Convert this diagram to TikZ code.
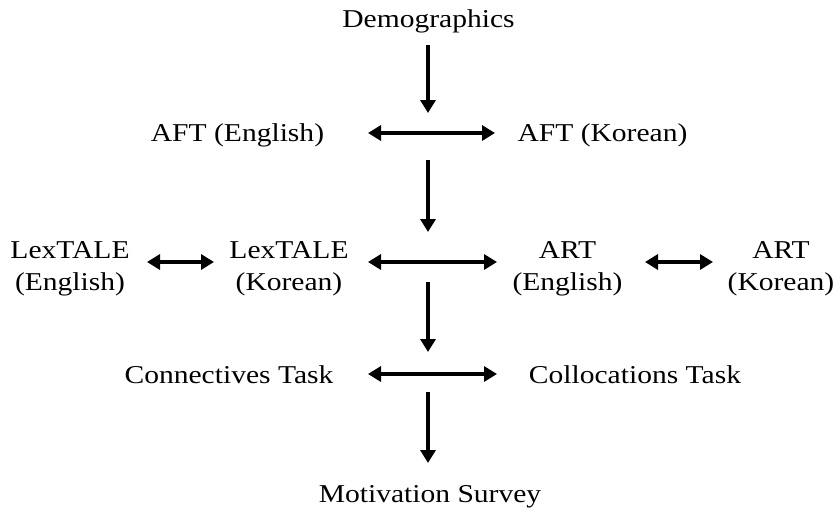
\documentclass[tikz,border=0pt]{standalone}
\usepackage{fontspec}
\setmainfont{Liberation Serif}[FakeStretch=1.15]
\usetikzlibrary{arrows.meta}
\begin{document}
\begin{tikzpicture}[x=1pt,y=-1pt,
  lbl/.style={inner sep=0pt, font=\fontsize{25.7}{32}\selectfont, text height=18pt, text depth=5pt},
  lbl2/.style={inner sep=0pt, font=\fontsize{25.7}{32}\selectfont, align=center},
  arr/.style={line width=4pt, -{Triangle[length=13pt,width=15pt]}},
  dbl/.style={line width=4pt, {Triangle[length=13pt,width=15pt]}-{Triangle[length=13pt,width=15pt]}}]
\useasboundingbox (0,0) rectangle (836,507);
% nodes
\node[lbl] (demo) at (428.5,20.5) {Demographics};
\node[lbl] (aftE) at (237.5,135) {AFT (English)};
\node[lbl] (aftK) at (602.5,135) {AFT (Korean)};
\node[lbl2] (lexE) at (70,269) {LexTALE\\(English)};
\node[lbl2] (lexK) at (289,269) {LexTALE\\(Korean)};
\node[lbl2] (artE) at (567.5,269) {ART\\(English)};
\node[lbl2] (artK) at (781,269) {ART\\(Korean)};
\node[lbl] (conn) at (229,377) {Connectives Task};
\node[lbl] (coll) at (635,377) {Collocations Task};
\node[lbl] (motiv) at (430,495.5) {Motivation Survey};
% free ends
\coordinate (v1) at (428,113);
\coordinate (v2a) at (428,160);
\coordinate (v2b) at (428,232);
\coordinate (v3a) at (428,282);
\coordinate (v3b) at (428,352);
\coordinate (v4) at (428,392);
% vertical arrows
\draw[arr, shorten <=24.5pt] (demo.center -| v1) -- (v1);
\draw[arr] (v2a) -- (v2b);
\draw[arr] (v3a) -- (v3b);
\draw[arr, shorten >=32.5pt] (v4) -- (v4 |- motiv.center);
% horizontal double arrows
\draw[dbl, shorten <=130.5pt, shorten >=107.5pt] ([yshift=2pt]aftE.center) -- ([yshift=2pt]aftK.center);
\draw[dbl, shorten <=77pt, shorten >=75pt] ([yshift=7pt]lexE.center) -- ([yshift=7pt]lexK.center);
\draw[dbl, shorten <=79pt, shorten >=70.5pt] ([yshift=7pt]lexK.center) -- ([yshift=7pt]artE.center);
\draw[dbl, shorten <=77.5pt, shorten >=68pt] ([yshift=7pt]artE.center) -- ([yshift=7pt]artK.center);
\draw[dbl, shorten <=139pt, shorten >=138pt] ([yshift=3pt]conn.center) -- ([yshift=3pt]coll.center);
\end{tikzpicture}
\end{document}
